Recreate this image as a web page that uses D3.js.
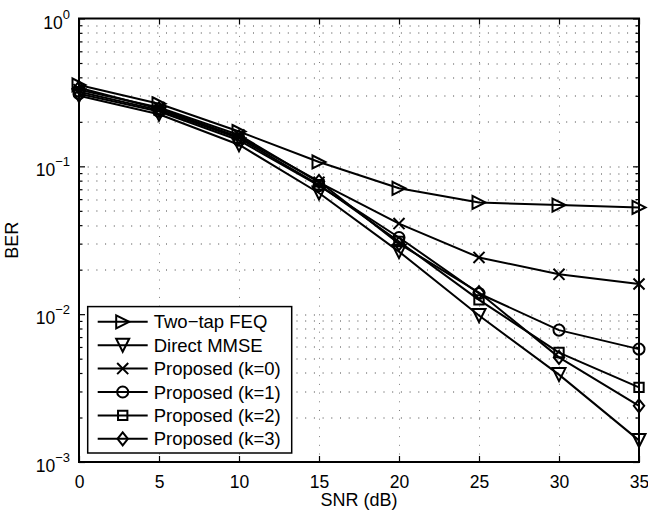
<!DOCTYPE html>
<html>
<head>
<meta charset="utf-8">
<script src="https://cdn.jsdelivr.net/npm/d3@7/dist/d3.min.js"></script>
<style>
  html, body { margin: 0; padding: 0; background: #fff; }
  svg { display: block; font-family: "Liberation Sans", Arial, Helvetica, sans-serif; }
</style>
</head>
<body>
<svg id="chart" width="648" height="516"></svg>
<script>
// SNR points (dB)
const snr = [0, 5, 10, 15, 20, 25, 30, 35];

// BER curves
const berTwoTap = [0.355, 0.265, 0.172, 0.107, 0.071, 0.057, 0.0547, 0.0527];
const berMMSE   = [0.300, 0.225, 0.140, 0.066, 0.0265, 0.0098, 0.0039, 0.0014];
const berK0     = [0.330, 0.250, 0.163, 0.078, 0.041, 0.0242, 0.0186, 0.0160];
const berK1     = [0.310, 0.235, 0.150, 0.074, 0.033, 0.0138, 0.0078, 0.0058];
const berK2     = [0.320, 0.240, 0.155, 0.075, 0.031, 0.0125, 0.0055, 0.0032];
const berK3     = [0.340, 0.245, 0.158, 0.079, 0.030, 0.0140, 0.0051, 0.0024];

const seriesNames = ["Two\u2212tap FEQ", "Direct MMSE", "Proposed (k=0)", "Proposed (k=1)", "Proposed (k=2)", "Proposed (k=3)"];
const seriesMarkers = ["triRight", "triDown", "cross", "circle", "square", "diamond"];
const seriesValues = [berTwoTap, berMMSE, berK0, berK1, berK2, berK3];

const xTicks = [0, 5, 10, 15, 20, 25, 30, 35];
const yDecades = [-3, -2, -1, 0];

const W = 648, H = 516;
const margin = { left: 79, right: 9, top: 18.5, bottom: 54 };
const iw = W - margin.left - margin.right;
const ih = H - margin.top - margin.bottom;
const fs = 17.5, legFs = 18.5;

const svg = d3.select("#chart");
const g = svg.append("g").attr("transform", `translate(${margin.left},${margin.top})`);

const x = d3.scaleLinear().domain([0, 35]).range([0, iw]);
const y = d3.scaleLog().domain([1e-3, 1]).range([ih, 0]);

// minor log ticks (2..9 in each decade)
const minorY = [];
for (const d of [-3, -2, -1]) for (let m = 2; m <= 9; m++) minorY.push(m * Math.pow(10, d));
const majorY = yDecades.map(d => Math.pow(10, d));

// dotted grid
const grid = g.append("g").attr("stroke", "#000").attr("stroke-width", 1).attr("fill", "none");
grid.selectAll("line.hy").data(minorY.concat(majorY.slice(1, 3))).join("line")
  .attr("x1", 0).attr("x2", iw)
  .attr("y1", d => Math.round(y(d)) + 0.5).attr("y2", d => Math.round(y(d)) + 0.5)
  .attr("stroke-dasharray", "1,7.7").attr("stroke-opacity", 0.75);
grid.selectAll("line.vx").data(xTicks.slice(1, -1)).join("line")
  .attr("y1", 0).attr("y2", ih)
  .attr("x1", d => Math.round(x(d)) + 0.5).attr("x2", d => Math.round(x(d)) + 0.5)
  .attr("stroke-dasharray", "1,7.7").attr("stroke-opacity", 0.5);

// axes (ticks on all four sides, pointing inward)
const tickLen = 6;
const axB = g.append("g").attr("transform", `translate(0,${ih})`)
  .call(d3.axisBottom(x).tickValues(xTicks).tickSizeInner(-tickLen).tickSizeOuter(0).tickPadding(tickLen + 8));
const axT = g.append("g")
  .call(d3.axisTop(x).tickValues(xTicks).tickSizeInner(-tickLen).tickSizeOuter(0).tickFormat(""));
const axL = g.append("g")
  .call(d3.axisLeft(y).tickValues(majorY).tickSizeInner(-tickLen).tickSizeOuter(0).tickFormat(""));
const axR = g.append("g").attr("transform", `translate(${iw},0)`)
  .call(d3.axisRight(y).tickValues(majorY).tickSizeInner(-tickLen).tickSizeOuter(0).tickFormat(""));
const axLm = g.append("g")
  .call(d3.axisLeft(y).tickValues(minorY).tickSizeInner(-3.5).tickSizeOuter(0).tickFormat(""));
const axRm = g.append("g").attr("transform", `translate(${iw},0)`)
  .call(d3.axisRight(y).tickValues(minorY).tickSizeInner(-3.5).tickSizeOuter(0).tickFormat(""));

for (const a of [axB, axT, axL, axR, axLm, axRm]) {
  a.select(".domain").remove();
  a.selectAll("line").attr("stroke", "#000").attr("stroke-width", 1.2);
}
axB.selectAll("text").attr("font-size", fs).attr("fill", "#000").attr("font-family", "Liberation Sans, Arial, sans-serif");

// y tick labels 10^n
const ylab = g.append("g");
yDecades.forEach(d => {
  const t = ylab.append("text")
    .attr("x", -9).attr("y", y(Math.pow(10, d)) + 10)
    .attr("text-anchor", "end").attr("font-size", fs).attr("fill", "#000");
  t.append("tspan").text("10");
  t.append("tspan").attr("dy", -10).attr("font-size", 13).text(d === 0 ? "0" : "\u2212" + Math.abs(d));
});

// frame
g.append("rect").attr("x", 0).attr("y", 0).attr("width", iw).attr("height", ih)
  .attr("fill", "none").attr("stroke", "#000").attr("stroke-width", 2);

// axis titles
svg.append("text").attr("x", margin.left + iw / 2).attr("y", 506)
  .attr("text-anchor", "middle").attr("font-size", 18).text("SNR (dB)");
svg.append("text").attr("transform", `translate(18,${margin.top + ih / 2}) rotate(-90)`)
  .attr("text-anchor", "middle").attr("font-size", 18).text("BER");

// marker shapes
function drawMarker(sel, type, s) {
  const r = s / 2;
  let p;
  switch (type) {
    case "triRight": p = `M${-r},${-r}L${r},0L${-r},${r}Z`; break;
    case "triDown": p = `M${-r},${-r}L${r},${-r}L0,${r}Z`; break;
    case "cross": { const c = r * 0.85; p = `M${-c},${-c}L${c},${c}M${-c},${c}L${c},${-c}`; break; }
    case "square": { const c = r * 0.72; p = `M${-c},${-c}H${c}V${c}H${-c}Z`; break; }
    case "diamond": p = `M0,${-r}L${r * 0.8},0L0,${r}L${-r * 0.8},0Z`; break;
    case "circle": p = d3.path(); p.arc(0, 0, r * 0.85, 0, 2 * Math.PI); p = p.toString(); break;
  }
  sel.append("path").attr("d", p).attr("fill", "none").attr("stroke", "#000").attr("stroke-width", 2);
}

// curves
const line = d3.line().x((d, i) => x(snr[i])).y(d => y(d));
const plot = g.append("g");
seriesValues.forEach((vals, k) => {
  plot.append("path").attr("d", line(vals)).attr("fill", "none")
    .attr("stroke", "#000").attr("stroke-width", 2).attr("stroke-linejoin", "round");
  vals.forEach((v, i) => {
    const m = plot.append("g").attr("transform", `translate(${x(snr[i])},${y(v)})`);
    drawMarker(m, seriesMarkers[k], 13);
  });
});

// legend
const rowH = 23.4;
const legW = 204, legH = rowH * seriesNames.length + 6;
const legX = 8.7, legBottom = 453 - margin.top;
const leg = g.append("g").attr("transform", `translate(${legX},${legBottom - legH})`);
leg.append("rect").attr("x", 0).attr("y", 0).attr("width", legW).attr("height", legH)
  .attr("fill", "#fff").attr("stroke", "#000").attr("stroke-width", 1.5);
seriesNames.forEach((name, k) => {
  const cy = 3 + rowH * (k + 0.5) + 0.5;
  leg.append("line").attr("x1", 10).attr("x2", 60).attr("y1", cy).attr("y2", cy)
    .attr("stroke", "#000").attr("stroke-width", 2);
  drawMarker(leg.append("g").attr("transform", `translate(35,${cy})`), seriesMarkers[k], 13);
  leg.append("text").attr("x", 66).attr("y", cy + 6.6).attr("font-size", legFs).text(name);
});
</script>
</body>
</html>
